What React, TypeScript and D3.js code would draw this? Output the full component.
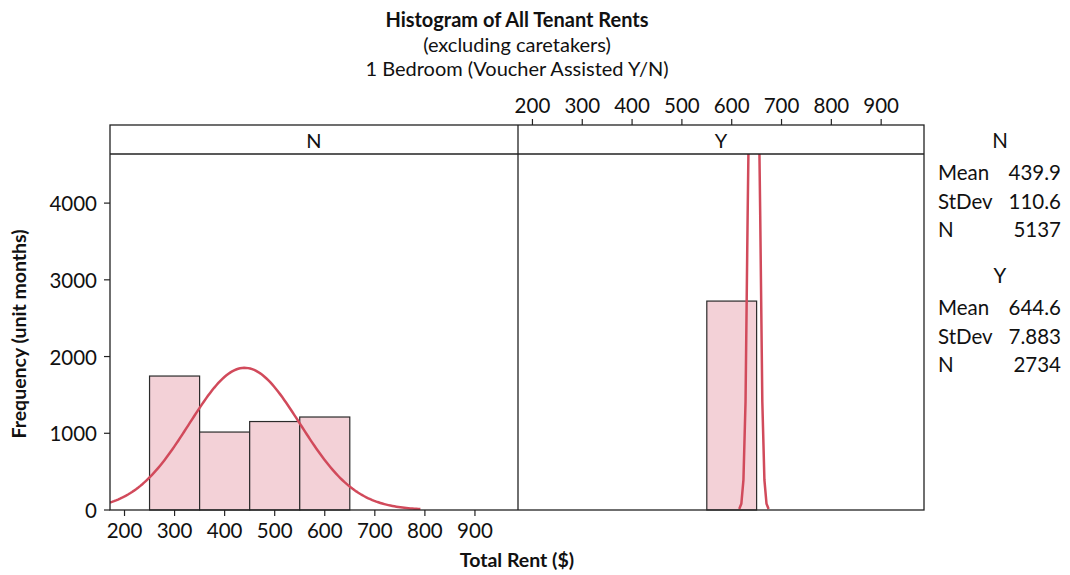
import React from "react";
import { scaleLinear, line } from "d3";

const groups = ["N", "Y"];
const binEdges = [250, 350, 450, 550, 650];
const countsN = [1746, 1016, 1153, 1212];
const countsY = [0, 0, 0, 2723];
const stats = [
  { label: "N", mean: 439.9, sd: 110.6, n: 5137, meanText: "439.9", sdText: "110.6", nText: "5137" },
  { label: "Y", mean: 644.6, sd: 7.883, n: 2734, meanText: "644.6", sdText: "7.883", nText: "2734" },
];
const xTicks = [200, 300, 400, 500, 600, 700, 800, 900];
const yTicks = [0, 1000, 2000, 3000, 4000];
const binWidth = 100;

const W = 1070;
const H = 575;
const top = 125;
const stripBottom = 154;
const bottom = 510;
const panels = [
  { x0: 110, x1: 518 },
  { x0: 518, x1: 924 },
];
const font = "Lato, 'Open Sans', sans-serif";
const fill = "#f3d1d7";
const red = "#d14a5b";

const y = scaleLinear().domain([0, 4640]).range([bottom, stripBottom]);

function normal(mean: number, sd: number, n: number, v: number) {
  return ((n * binWidth) / (sd * Math.sqrt(2 * Math.PI))) * Math.exp(-0.5 * ((v - mean) / sd) ** 2);
}

export default function App() {
  return (
    <svg width={W} height={H} style={{ position: "absolute", left: 0, top: 0 }} fontFamily={font} fill="#111">
      <defs>
        {panels.map((p, i) => (
          <clipPath id={"clip" + i} key={i}>
            <rect x={p.x0} y={stripBottom} width={p.x1 - p.x0} height={bottom - stripBottom} />
          </clipPath>
        ))}
      </defs>
      <text x={517} y={27} textAnchor="middle" fontSize={20} fontWeight="bold">
        Histogram of All Tenant Rents
      </text>
      <text x={517} y={52} textAnchor="middle" fontSize={20}>
        (excluding caretakers)
      </text>
      <text x={517} y={76} textAnchor="middle" fontSize={20}>
        1 Bedroom (Voucher Assisted Y/N)
      </text>

      {panels.map((p, i) => {
        const x = scaleLinear().domain([171, 986]).range([p.x0, p.x1]);
        const counts = i === 0 ? countsN : countsY;
        const s = stats[i];
        let pts: [number, number][] = [];
        if (i === 0) {
          for (let v = 171; v <= s.mean + 3.2 * s.sd; v += 4) pts.push([v, normal(s.mean, s.sd, s.n, v)]);
        } else {
          for (let k = -7; k <= 7; k++) {
            const v = s.mean + k * 0.534 * s.sd;
            pts.push([v, normal(s.mean, s.sd, s.n, v)]);
          }
        }
        const path = line<[number, number]>()
          .x((d) => x(d[0]))
          .y((d) => y(Math.min(d[1], 6000)))(pts);
        return (
          <g key={i}>
            {counts.map((c, j) =>
              c > 0 ? (
                <rect
                  key={j}
                  x={x(binEdges[j])}
                  y={y(c)}
                  width={x(binEdges[j + 1]) - x(binEdges[j])}
                  height={y(0) - y(c)}
                  fill={fill}
                  stroke="#2b2b2b"
                  strokeWidth={1.2}
                />
              ) : null
            )}
            <path d={path || ""} fill="none" stroke={red} strokeWidth={2.5} clipPath={`url(#clip${i})`} />
            <text x={(p.x0 + p.x1) / 2} y={148} textAnchor="middle" fontSize={20}>
              {groups[i]}
            </text>
            {i === 0
              ? xTicks.map((t) => (
                  <g key={t}>
                    <line x1={x(t)} x2={x(t)} y1={bottom} y2={bottom + 6} stroke="#222" strokeWidth={1.2} />
                    <text x={x(t)} y={bottom + 28} textAnchor="middle" fontSize={20.5}>
                      {t}
                    </text>
                  </g>
                ))
              : xTicks.map((t) => (
                  <g key={t}>
                    <line x1={x(t)} x2={x(t)} y1={top} y2={top - 6} stroke="#222" strokeWidth={1.2} />
                    <text x={x(t)} y={top - 12} textAnchor="middle" fontSize={20.5}>
                      {t}
                    </text>
                  </g>
                ))}
          </g>
        );
      })}

      <rect x={110} y={top} width={924 - 110} height={bottom - top} fill="none" stroke="#222" strokeWidth={1.3} />
      <line x1={110} x2={924} y1={stripBottom} y2={stripBottom} stroke="#222" strokeWidth={1.3} />
      <line x1={518} x2={518} y1={top} y2={bottom} stroke="#222" strokeWidth={1.3} />

      {yTicks.map((t) => (
        <g key={t}>
          <line x1={104} x2={110} y1={y(t)} y2={y(t)} stroke="#222" strokeWidth={1.2} />
          <text x={97} y={y(t) + 8} textAnchor="end" fontSize={20.5}>
            {t}
          </text>
        </g>
      ))}

      <text x={517} y={567} textAnchor="middle" fontSize={19.5} fontWeight="bold">
        Total Rent ($)
      </text>
      <text
        transform={`translate(26,334) rotate(-90)`}
        textAnchor="middle"
        fontSize={19.5}
        fontWeight="bold"
      >
        Frequency (unit months)
      </text>

      {stats.map((s, i) => {
        const y0 = 148 + i * 135;
        return (
          <g key={s.label} fontSize={20.5}>
            <text x={1000} y={y0} textAnchor="middle">
              {s.label}
            </text>
            {[
              ["Mean", s.meanText],
              ["StDev", s.sdText],
              ["N", s.nText],
            ].map(([k, v], j) => (
              <g key={k}>
                <text x={938} y={y0 + 32 + j * 28.5}>
                  {k}
                </text>
                <text x={1061} y={y0 + 32 + j * 28.5} textAnchor="end">
                  {v}
                </text>
              </g>
            ))}
          </g>
        );
      })}
    </svg>
  );
}
